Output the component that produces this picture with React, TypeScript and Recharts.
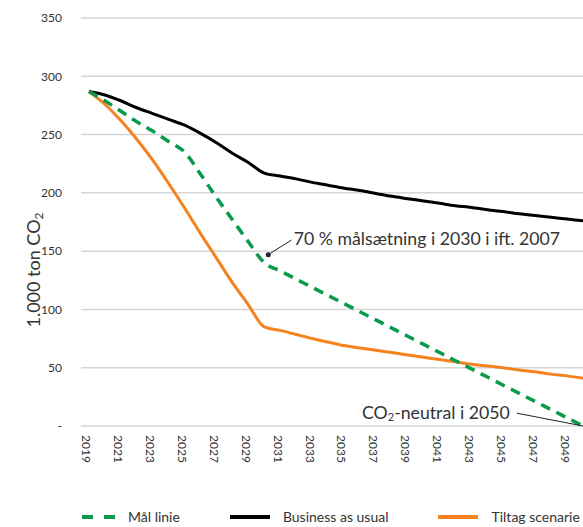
import React from 'react';
import {
  CartesianGrid,
  Line,
  LineChart,
  ReferenceDot,
  ReferenceLine,
  XAxis,
  YAxis,
} from 'recharts';

const YEARS = [
  2019, 2020, 2021, 2022, 2023, 2024, 2025, 2026, 2027, 2028, 2029, 2030, 2031,
  2032, 2033, 2034, 2035, 2036, 2037, 2038, 2039, 2040, 2041, 2042, 2043, 2044,
  2045, 2046, 2047, 2048, 2049, 2050,
];

// Mål linie (target)
const MAAL = [
  287, 279, 270, 261, 253, 244, 235, 216, 196, 177, 158, 140, 133, 126, 119,
  112, 105, 98, 91, 84, 77, 70, 63, 56, 49, 42, 35, 28, 21, 14, 7, 0,
];

// Business as usual
const BAU = [
  287, 284, 279, 273, 268, 263, 258, 251, 243, 234, 226, 217, 214.5, 212, 209,
  206.5, 204, 202, 199.5, 197, 195, 193, 191, 189, 187.5, 185.5, 184, 182,
  180.5, 179, 177.5, 176,
];

// Tiltag scenarie
const TILTAG = [
  287, 276, 262, 246, 228, 208, 187, 165, 144, 123, 104, 85, 82, 78.5, 75, 72,
  69, 67, 65, 63, 61, 59, 57, 55, 53, 51.5, 50, 48, 46.5, 44.5, 43, 41,
];

const X_TICKS = [
  2019, 2021, 2023, 2025, 2027, 2029, 2031, 2033, 2035, 2037, 2039, 2041, 2043,
  2045, 2047, 2049,
];
const Y_TICKS = [0, 50, 100, 150, 200, 250, 300, 350];

const SERIES = [
  { key: 'maal', name: 'Mål linie', color: '#0a9a4c', dashed: true },
  { key: 'bau', name: 'Business as usual', color: '#000000', dashed: false },
  { key: 'tiltag', name: 'Tiltag scenarie', color: '#f5821f', dashed: false },
];

const FONT = 'Lato, "Open Sans", sans-serif';
const TEXT = '#333333';

const data = YEARS.map((year, i) => ({
  year,
  maal: MAAL[i],
  bau: BAU[i],
  tiltag: TILTAG[i],
}));

function XTick({ x, y, payload }: any) {
  const tx = x - 2;
  return (
    <text
      x={tx}
      y={y}
      transform={`rotate(90, ${tx}, ${y})`}
      textAnchor="start"
      dominantBaseline="central"
      fontSize={12}
      fontFamily={FONT}
      fill={TEXT}
    >
      {payload.value}
    </text>
  );
}

function YLabel() {
  return (
    <text
      x={33}
      y={270}
      transform="rotate(-90, 33, 270)"
      textAnchor="middle"
      dominantBaseline="central"
      fontSize={18}
      fontFamily={FONT}
      fill={TEXT}
    >
      1.000 ton CO
      <tspan fontSize={12} dy={5}>
        2
      </tspan>
    </text>
  );
}

function Legend() {
  return (
    <div
      style={{
        position: 'absolute',
        left: 82,
        top: 507,
        height: 20,
        display: 'flex',
        alignItems: 'center',
        gap: 50,
        fontFamily: FONT,
        fontSize: 14,
        lineHeight: '18px',
        color: TEXT,
        whiteSpace: 'nowrap',
      }}
    >
      {SERIES.map((s) => (
        <div key={s.key} style={{ display: 'flex', alignItems: 'center', gap: 13 }}>
          <svg width={s.dashed ? 33 : 40} height={6}>
            <line
              x1={0}
              y1={3}
              x2={s.dashed ? 33 : 40}
              y2={3}
              stroke={s.color}
              strokeWidth={4}
              strokeDasharray={s.dashed ? '11 11' : undefined}
            />
          </svg>
          <span>{s.name}</span>
        </div>
      ))}
    </div>
  );
}

export default function App() {
  return (
    <div
      style={{
        position: 'fixed',
        left: 0,
        top: 0,
        width: 583,
        height: 527,
        overflow: 'hidden',
        background: '#fff',
      }}
    >
      <LineChart
        width={600}
        height={527}
        data={data}
        margin={{ top: 18, right: 9, bottom: 41, left: 0 }}
      >
        <CartesianGrid vertical={false} stroke="#d6d6d6" strokeWidth={1.5} />
        <XAxis
          dataKey="year"
          type="number"
          domain={[2018.5, 2050.5]}
          ticks={X_TICKS}
          interval={0}
          axisLine={false}
          tickLine={false}
          tickSize={0}
          tickMargin={9}
          height={60}
          tick={<XTick />}
        />
        <YAxis
          width={81}
          domain={[0, 350]}
          ticks={Y_TICKS}
          interval={0}
          axisLine={false}
          tickLine={false}
          tickSize={0}
          tickMargin={19}
          tick={{ fontSize: 12, fill: TEXT, fontFamily: FONT }}
          tickFormatter={(v: number) => (v === 0 ? '-' : String(v))}
          label={<YLabel />}
        />
        <Line
          dataKey="tiltag"
          type="monotone"
          stroke="#f5821f"
          strokeWidth={3}
          dot={false}
          activeDot={false}
          isAnimationActive={false}
        />
        <Line
          dataKey="bau"
          type="monotone"
          stroke="#000000"
          strokeWidth={3}
          dot={false}
          activeDot={false}
          isAnimationActive={false}
        />
        <Line
          dataKey="maal"
          type="monotone"
          stroke="#0a9a4c"
          strokeWidth={3.5}
          strokeDasharray="10 7"
          dot={false}
          activeDot={false}
          isAnimationActive={false}
        />
        <ReferenceLine
          segment={[
            { x: 2030.25, y: 147 },
            { x: 2031.7, y: 159.5 },
          ]}
          stroke="#222"
          strokeWidth={1}
          ifOverflow="visible"
        />
        <ReferenceDot x={2030.25} y={147} r={2.5} fill="#222" stroke="none" ifOverflow="visible" />
        <ReferenceDot
          x={2031.85}
          y={161}
          ifOverflow="visible"
          shape={(p: any) => (
            <text
              x={p.cx}
              y={p.cy}
              textAnchor="start"
              dominantBaseline="central"
              fontSize={17.7}
              fontFamily={FONT}
              fill={TEXT}
            >
              70 % målsætning i 2030 i ift. 2007
            </text>
          )}
        />
        <ReferenceLine
          segment={[
            { x: 2045.85, y: 11 },
            { x: 2050, y: 0 },
          ]}
          stroke="#222"
          strokeWidth={1}
          ifOverflow="visible"
        />
        <ReferenceDot
          x={2045.4}
          y={12}
          ifOverflow="visible"
          shape={(p: any) => (
            <text
              x={p.cx}
              y={p.cy}
              textAnchor="end"
              dominantBaseline="central"
              fontSize={17.7}
              fontFamily={FONT}
              fill={TEXT}
            >
              CO
              <tspan fontSize={11} dy={4}>
                2
              </tspan>
              <tspan dy={-4}>-neutral i 2050</tspan>
            </text>
          )}
        />
      </LineChart>
      <Legend />
    </div>
  );
}
